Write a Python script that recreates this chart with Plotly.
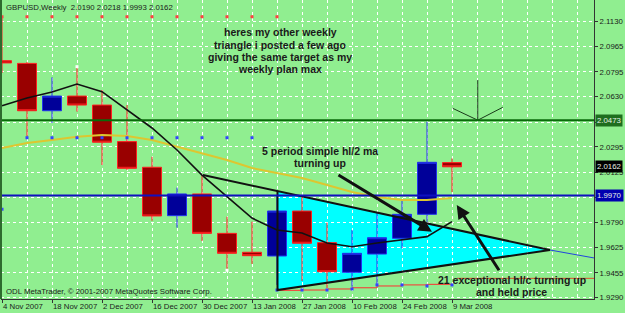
import plotly.graph_objects as go

# ---------------- data ----------------
weeks = list(range(19))
date_labels = ["4 Nov 2007", "18 Nov 2007", "2 Dec 2007", "16 Dec 2007", "30 Dec 2007",
               "13 Jan 2008", "27 Jan 2008", "10 Feb 2008", "24 Feb 2008", "9 Mar 2008"]
label_weeks = [0, 2, 4, 6, 8, 10, 12, 14, 16, 18]

opens  = [2.0870, 2.0852, 2.0536, 2.0634, 2.0574, 2.0330, 2.0159, 1.9836, 1.9981, 1.9718,
          1.9592, 1.9567, 1.9867, 1.9656, 1.9458, 1.9580, 1.9685, 1.9845, 2.0190]
highs  = [2.1155, 2.0861, 2.0759, 2.0821, 2.0674, 2.0574, 2.0229, 2.0023, 2.0107, 1.9829,
          1.9796, 1.9974, 1.9974, 1.9789, 1.9740, 1.9854, 1.9941, 2.0463, 2.0218]
lows   = [2.0788, 2.0363, 2.0454, 2.0530, 2.0174, 2.0141, 1.9802, 1.9756, 1.9667, 1.9478,
          1.9514, 1.9374, 1.9400, 1.9354, 1.9362, 1.9374, 1.9618, 1.9794, 1.9993]
closes = [2.0855, 2.0536, 2.0634, 2.0574, 2.0326, 2.0152, 1.9834, 1.9981, 1.9718, 1.9585,
          1.9569, 1.9867, 1.9652, 1.9462, 1.9585, 1.9689, 1.9845, 2.0192, 2.0162]

ma5 = [2.0570, 2.0621, 2.0661, 2.0714, 2.0663, 2.0541, 2.0421, 2.0274, 2.0107, 1.9963,
       1.9820, 1.9740, 1.9720, 1.9654, 1.9629, 1.9654, 1.9674, 1.9696, 1.9796]
ma_slow = [2.0287, 2.0321, 2.0341, 2.0363, 2.0374, 2.0368, 2.0341, 2.0296, 2.0254, 2.0207,
           2.0154, 2.0121, 2.0087, 2.0041, 1.9994, 1.9961, 1.9941, 1.9941, 1.9954]

exc_weeks = [11, 12, 13, 14, 15, 16, 17, 18]
exc_vals  = [1.9338, 1.9340, 1.9347, 1.9355, 1.9367, 1.9374, 1.9378, 1.9380]
exc_level = 1.9418

red_dot_weeks = list(range(12))
red_dot_val = 2.1163
blue_dot_weeks = [0, 1, 2, 3, 4, 5, 6, 7, 8, 9, 10, 11, 12, 13, 14, 15, 16, 17, 18]
blue_dot_vals = [1.9879, 2.0356, 2.0356, 2.0356, 2.0356, 2.0356, 2.0356, 2.0356, 2.0356, 2.0356,
                 2.0356, 1.9340, 1.9340, 1.9340, 1.9347, 1.9374, 1.9374, 1.9367, 1.9374]
white_dot_weeks = [3, 9]
white_dot_vals = [2.0830, 1.9472]

# triangle drawing (week index, price)
trend_start = (8.04, 2.0107)
tri_x = [11.02, 21.92, 11.02]
tri_y = [2.0000, 1.9607, 1.9340]
tri_ext = (23.68, 1.9554)

green_level = 2.0473
blue_level = 1.9970

y_ticks = [2.1130, 2.0965, 2.0795, 2.0630, 2.0460, 2.0295, 2.0125, 1.9960, 1.9790, 1.9625, 1.9455, 1.9290]
y_hidden = [2.0460, 1.9960]   # covered by the price boxes in the original

BG = "#90EE90"
FONT = "Liberation Sans, Arial, sans-serif"

fig = go.Figure()

fig.add_trace(go.Candlestick(
    x=weeks, open=opens, high=highs, low=lows, close=closes,
    increasing=dict(line=dict(color="#2233EE", width=1), fillcolor="#000099"),
    decreasing=dict(line=dict(color="#FF2020", width=1), fillcolor="#990000"),
    whiskerwidth=0))

fig.add_trace(go.Scatter(x=weeks, y=ma_slow, mode="lines",
                         line=dict(color="#DDC630", width=2)))
fig.add_trace(go.Scatter(x=weeks, y=ma5, mode="lines",
                         line=dict(color="#111111", width=1.6)))
fig.add_trace(go.Scatter(x=exc_weeks, y=exc_vals, mode="lines",
                         line=dict(color="#FF3030", width=1, shape="hv")))
fig.add_trace(go.Scatter(x=[18.2, 23.68], y=[exc_level, exc_level], mode="lines",
                         line=dict(color="#E0502A", width=1)))

fig.add_trace(go.Scatter(x=red_dot_weeks, y=[red_dot_val] * len(red_dot_weeks), mode="markers",
                         marker=dict(color="#FF4040", size=3, symbol="square")))
fig.add_trace(go.Scatter(x=blue_dot_weeks, y=blue_dot_vals, mode="markers",
                         marker=dict(color="#3344FF", size=3, symbol="square")))
fig.add_trace(go.Scatter(x=white_dot_weeks, y=white_dot_vals, mode="markers",
                         marker=dict(color="#FFFFFF", size=3, symbol="square")))

# triangle edges
fig.add_trace(go.Scatter(x=[trend_start[0], tri_x[1]], y=[trend_start[1], tri_y[1]], mode="lines",
                         line=dict(color="#111111", width=2)))
fig.add_trace(go.Scatter(x=[tri_x[0], tri_x[2], tri_x[1]], y=[tri_y[0], tri_y[2], tri_y[1]],
                         mode="lines", line=dict(color="#111111", width=2)))
fig.add_trace(go.Scatter(x=[tri_x[1], tri_ext[0]], y=[tri_y[1], tri_ext[1]], mode="lines",
                         line=dict(color="#2244DD", width=1)))

# V target marker
v_x = [18.03, 19.03, 20.03]
v_y = [2.0552, 2.0473, 2.0559]
fig.add_trace(go.Scatter(x=v_x, y=v_y, mode="lines", line=dict(color="#1A3A1A", width=1)))
fig.add_trace(go.Scatter(x=[19.03, 19.03], y=[2.0741, 2.0473], mode="lines",
                         line=dict(color="#1A3A1A", width=1)))

tri_path = "M %s,%s L %s,%s L %s,%s Z" % (tri_x[0], tri_y[0], tri_x[1], tri_y[1], tri_x[2], tri_y[2])
shapes = [
    dict(type="path", xref="x", yref="y", path=tri_path, fillcolor="#00FFFF",
         line=dict(width=0), layer="below"),
    dict(type="line", xref="paper", x0=0, x1=1, yref="y", y0=green_level, y1=green_level,
         line=dict(color="#0A6A0A", width=2), layer="above"),
    dict(type="line", xref="paper", x0=0, x1=1, yref="y", y0=blue_level, y1=blue_level,
         line=dict(color="#1010C0", width=2), layer="above"),
    dict(type="line", xref="paper", x0=0, x1=0, yref="paper", y0=0, y1=1,
         line=dict(color="#2E6B2E", width=2), layer="above"),
]

annotations = []
# arrows
annotations.append(dict(x=17.2, y=1.9729, ax=13.4, ay=2.0114, xref="x", yref="y", axref="x", ayref="y",
                        showarrow=True, arrowhead=2, arrowsize=0.9, arrowwidth=3, arrowcolor="#111111", text=""))
annotations.append(dict(x=18.19, y=1.9907, ax=19.92, ay=1.9462, xref="x", yref="y", axref="x", ayref="y",
                        showarrow=True, arrowhead=2, arrowsize=0.9, arrowwidth=3, arrowcolor="#111111", text=""))

bold = dict(family=FONT, size=10.5, color="#1A1A1A")
note1 = ["heres my other weekly", "triangle i posted a few ago",
         "giving the same target as my", "weekly plan max"]
note1_y = [2.1059, 2.0975, 2.0897, 2.0812]
for t, yy in zip(note1, note1_y):
    annotations.append(dict(x=11.12, y=yy, xref="x", yref="y", text="<b>%s</b>" % t,
                            showarrow=False, font=bold, xanchor="center", yanchor="middle"))
note2 = ["5 period simple hl/2 ma", "turning up"]
note2_y = [2.0269, 2.0185]
for t, yy in zip(note2, note2_y):
    annotations.append(dict(x=12.72, y=yy, xref="x", yref="y", text="<b>%s</b>" % t,
                            showarrow=False, font=bold, xanchor="center", yanchor="middle"))
note3 = ["21 exceptional hl/c turning up", "and held price"]
note3_y = [1.9407, 1.9325]
for t, yy in zip(note3, note3_y):
    annotations.append(dict(x=20.39, y=yy, xref="x", yref="y", text="<b>%s</b>" % t,
                            showarrow=False, font=bold, xanchor="center", yanchor="middle"))

small = dict(family=FONT, size=7.8, color="#1A1A1A")
header = "GBPUSD,Weekly\u00a0\u00a0%.4f %.4f %.4f %.4f" % (opens[-1], highs[-1], lows[-1], closes[-1])
annotations.append(dict(x=0, y=1, xref="paper", yref="paper", text=header, showarrow=False,
                        xanchor="left", yanchor="top", xshift=3, yshift=-1, font=small))
annotations.append(dict(x=0, y=0, xref="paper", yref="paper",
                        text="ODL MetaTrader, \u00a9 2001-2007 MetaQuotes Software Corp.",
                        showarrow=False, xanchor="left", yanchor="bottom", xshift=3, yshift=1, font=small))

# price boxes on the right axis
for val, bg in [(green_level, "#1E6E1E"), (closes[-1], "#000000"), (blue_level, "#0000B0")]:
    annotations.append(dict(x=1, y=val, xref="paper", yref="y", text="%.4f" % val, showarrow=False,
                            xanchor="left", yanchor="middle", xshift=1, bgcolor=bg, borderpad=1,
                            font=dict(family=FONT, size=7.8, color="#E8F0E8")))

fig.update_layout(
    width=625, height=313,
    margin=dict(l=1, r=31, t=0, b=14),
    paper_bgcolor=BG, plot_bgcolor=BG,
    showlegend=False,
    boxgap=0.24, boxgroupgap=0,
    shapes=shapes, annotations=annotations,
    font=dict(family=FONT, size=7.8, color="#1A1A1A"),
)
fig.update_xaxes(
    range=[-0.04, 23.68], tickvals=label_weeks, ticktext=date_labels, tickangle=0,
    automargin=False,
    ticks="outside", ticklen=3, tickcolor="#333333", ticklabelposition="outside right",
    showline=True, linecolor="#333333", linewidth=1,
    showgrid=True, gridcolor="#FFFFFF", griddash="dot", gridwidth=1,
    minor=dict(dtick=1, tick0=0, showgrid=True, gridcolor="#FFFFFF", griddash="dot", ticks=""),
    rangeslider=dict(visible=False), zeroline=False,
    tickfont=dict(family=FONT, size=7.8, color="#1A1A1A"),
)
fig.update_yaxes(
    side="right", range=[1.92801, 2.12748], tickvals=y_ticks, automargin=False,
    ticktext=["" if v in y_hidden else "%.4f" % v for v in y_ticks],
    ticks="outside", ticklen=3, tickcolor="#333333",
    showline=True, linecolor="#333333", linewidth=1,
    showgrid=True, gridcolor="#FFFFFF", griddash="dot", gridwidth=1, zeroline=False,
    tickfont=dict(family=FONT, size=7.8, color="#1A1A1A"),
)

fig.write_html("out.html")
